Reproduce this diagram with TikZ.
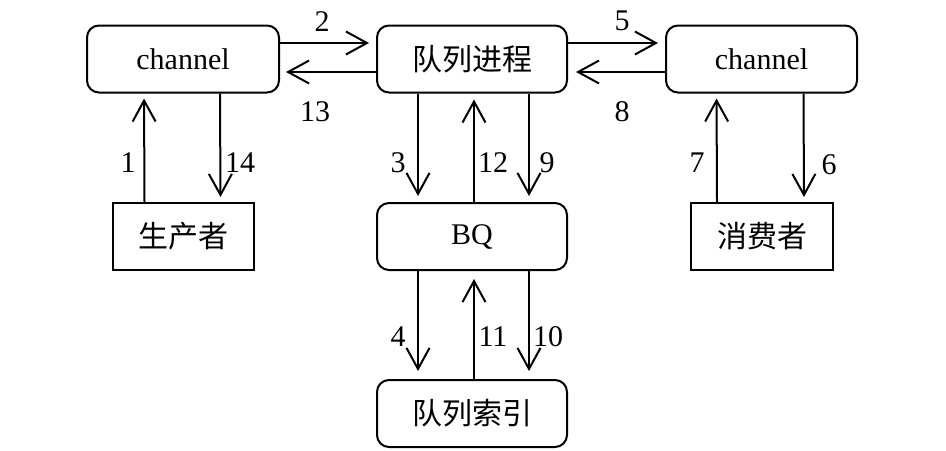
\documentclass[tikz,border=0pt]{standalone}
\usepackage{fontspec}
\setmainfont{Liberation Serif}
\newfontfamily\cjk{Noto Sans CJK SC}
\usetikzlibrary{arrows.meta,calc}
\begin{document}
\begin{tikzpicture}[x=0.5pt,y=-0.5pt,
  font=\fontsize{15pt}{18pt}\selectfont,
  rbox/.style={draw,line width=1pt,rounded corners=6pt,minimum height=33.5pt,inner sep=0pt},
  sbox/.style={draw,line width=1pt,minimum height=33.5pt,inner sep=0pt},
  arr/.style={line width=1pt,-{Straight Barb[length=10.5pt,width=11.5pt,line width=1pt]}},
  lbl/.style={inner sep=0pt}]
\useasboundingbox (0,0) rectangle (946,450);
\node[rbox,minimum width=96pt] (ch1) at (183,59) {channel};
\node[rbox,minimum width=95pt] (qp) at (472,59) {\cjk 队列进程};
\node[rbox,minimum width=95.5pt] (ch2) at (761.5,59) {channel};
\node[sbox,minimum width=70.5pt] (prod) at (183.5,236.5) {\cjk 生产者};
\node[rbox,minimum width=95pt] (bq) at (472,236.5) {BQ};
\node[sbox,minimum width=71pt] (cons) at (762,236.5) {\cjk 消费者};
\node[rbox,minimum width=95pt] (idx) at (472,413.5) {\cjk 队列索引};
% horizontal
\draw[arr,shorten >=3.5pt] ($(ch1.east)+(0,-16)$) -- ($(qp.west)+(0,-16)$);
\draw[arr,shorten >=3pt] ($(qp.west)+(0,13)$) -- ($(ch1.east)+(0,13)$);
\draw[arr,shorten >=3.5pt] ($(qp.east)+(0,-16)$) -- ($(ch2.west)+(0,-16)$);
\draw[arr,shorten >=4pt] ($(ch2.west)+(0,13)$) -- ($(qp.east)+(0,13)$);
% left column
\draw[arr,shorten >=2.5pt] ($(prod.north)+(-39,0)$) -- ($(ch1.south)+(-39,0)$);
\draw[arr,shorten >=2.5pt] ($(ch1.south)+(37,0)$) -- ($(prod.north)+(37,0)$);
% middle upper
\draw[arr,shorten >=3pt] ($(qp.south)+(-54,0)$) -- ($(bq.north)+(-54,0)$);
\draw[arr,shorten >=3pt] ($(bq.north)+(2,0)$) -- ($(qp.south)+(2,0)$);
\draw[arr,shorten >=3pt] ($(qp.south)+(57,0)$) -- ($(bq.north)+(57,0)$);
% middle lower
\draw[arr,shorten >=4pt] ($(bq.south)+(-54,0)$) -- ($(idx.north)+(-54,0)$);
\draw[arr,shorten >=4pt] ($(idx.north)+(2,0)$) -- ($(bq.south)+(2,0)$);
\draw[arr,shorten >=4pt] ($(bq.south)+(57,0)$) -- ($(idx.north)+(57,0)$);
% right column
\draw[arr,shorten >=2.5pt] ($(cons.north)+(-45,0)$) -- ($(ch2.south)+(-45,0)$);
\draw[arr,shorten >=2.5pt] ($(ch2.south)+(42,0)$) -- ($(cons.north)+(42,0)$);
% labels
\node[lbl] (l2) at (322,22) {2};
\node[lbl] (l13) at (315,112) {13};
\node[lbl] (l5) at (622,21) {5};
\node[lbl] (l8) at (622,112) {8};
\node[lbl] (l1) at (128,163) {1};
\node[lbl] (l14) at (240,163) {14};
\node[lbl] (l3) at (398,163) {3};
\node[lbl] (l12) at (493,163) {12};
\node[lbl] (l9) at (547,163) {9};
\node[lbl] (l7) at (697,163) {7};
\node[lbl] (l6) at (829,165) {6};
\node[lbl] (l4) at (398,337) {4};
\node[lbl] (l11) at (493,337) {11};
\node[lbl] (l10) at (548,337) {10};
\end{tikzpicture}
\end{document}
